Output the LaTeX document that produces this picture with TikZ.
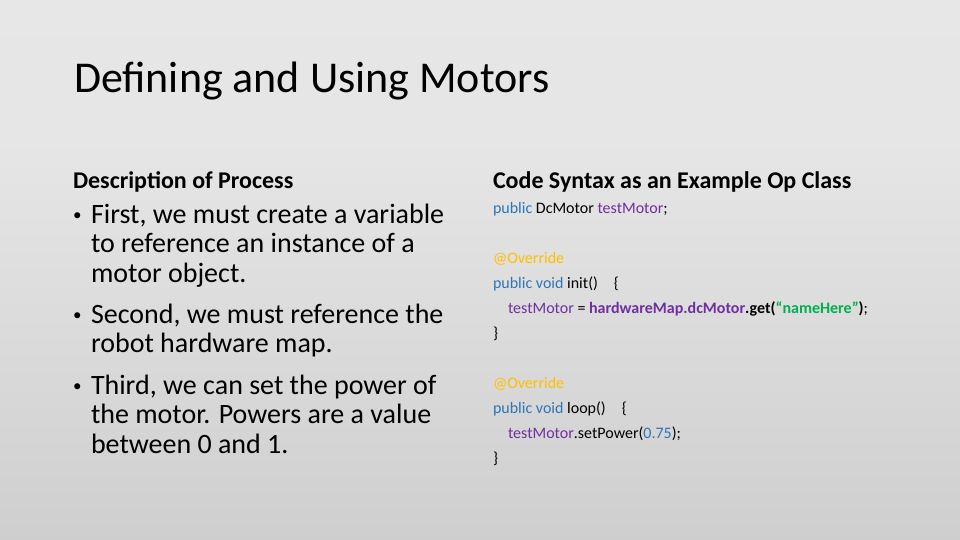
\documentclass[tikz,border=0pt]{standalone}
\usepackage{fontspec}
\setmainfont{Carlito}
\definecolor{bgTop}{HTML}{E8E8E8}
\definecolor{bgMid}{HTML}{E6E6E6}
\definecolor{bgLow}{HTML}{D2D2D2}
\definecolor{bgBot}{HTML}{BBBBBB}
\definecolor{codeblue}{HTML}{2E75B6}
\definecolor{codepurple}{HTML}{7030A0}
\definecolor{codegold}{HTML}{FFC000}
\definecolor{codegreen}{HTML}{00B050}
\pgfdeclareverticalshading{slidebg}{100bp}{color(0bp)=(bgBot); color(30bp)=(bgLow); color(62bp)=(bgMid); color(100bp)=(bgTop)}
\tikzset{
  txt/.style={anchor=base west, inner sep=0pt, outer sep=0pt, text=black},
  titletxt/.style={txt, font=\fontsize{44}{53}\selectfont},
  headtxt/.style={txt, font=\fontsize{24}{29}\selectfont\bfseries},
  bodytxt/.style={txt, font=\fontsize{28}{30}\selectfont},
  bullettxt/.style={txt, font=\fontsize{17}{20}\selectfont},
  codetxt/.style={txt, font=\fontsize{16}{19}\selectfont},
}
\newcommand{\kw}[1]{\textcolor{codeblue}{#1}}
\newcommand{\vr}[1]{\textcolor{codepurple}{#1}}
\begin{document}
\begin{tikzpicture}[x=1pt,y=-1pt]
\useasboundingbox (0,0) rectangle (960,540);
\shade[shading=slidebg] (0,0) rectangle (960,540);
% title
\node[titletxt] (title) at (74,93) {Defining and Using Motors};
% headings
\node[headtxt] (lhead) at (73,188) {Description of Process};
\node[headtxt] (rhead) at (493,188) {Code Syntax as an Example Op Class};
% bullets
\node[bullettxt] (b1) at (73,220.5) {•};
\node[bodytxt] (b1l1) at (91,223) {First, we must create a variable};
\node[bodytxt] (b1l2) at (91,252.5) {to reference an instance of a};
\node[bodytxt] (b1l3) at (91,282) {motor object.};
\node[bullettxt] (b2) at (73,320.5) {•};
\node[bodytxt] (b2l1) at (91,323) {Second, we must reference the};
\node[bodytxt] (b2l2) at (91,352.5) {robot hardware map.};
\node[bullettxt] (b3) at (73,391.5) {•};
\node[bodytxt] (b3l1) at (91,394) {Third, we can set the power of};
\node[bodytxt] (b3l2) at (91,423.5) {the motor. Powers are a value};
\node[bodytxt] (b3l3) at (91,453) {between 0 and 1.};
% code
\node[codetxt] (c1) at (493,213) {\kw{public} DcMotor \vr{testMotor};};
\node[codetxt] (c2) at (493,263) {\textcolor{codegold}{@Override}};
\node[codetxt] (c3) at (493,288) {\kw{public void} init()\quad\{};
\node[codetxt] (c4) at (508,313) {\vr{testMotor} = \textbf{\vr{hardwareMap.dcMotor}.get(\textcolor{codegreen}{“nameHere”})};};
\node[codetxt] (c5) at (493,338) {\}};
\node[codetxt] (c6) at (493,388) {\textcolor{codegold}{@Override}};
\node[codetxt] (c7) at (493,413) {\kw{public void} loop()\quad\{};
\node[codetxt] (c8) at (508,438) {\vr{testMotor}.setPower(\kw{0.75});};
\node[codetxt] (c9) at (493,463) {\}};
\end{tikzpicture}
\end{document}
